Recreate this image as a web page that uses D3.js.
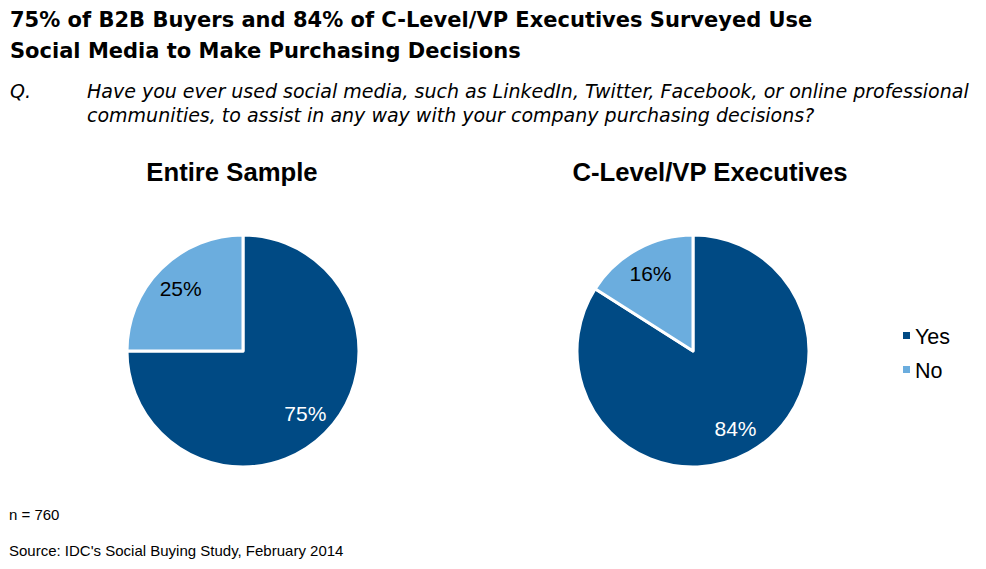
<!DOCTYPE html>
<html>
<head>
<meta charset="utf-8">
<script src="https://cdn.jsdelivr.net/npm/d3@7"></script>
<style>
  body { margin: 0; background: #fff; }
  svg { display: block; }
</style>
</head>
<body>
<script>
// DATA

const categories = ["Yes", "No"];
const groups = ["Entire Sample", "C-Level/VP Executives"];
const sampleValues = [75, 25];
const execValues = [84, 16];

const W = 986, H = 569;
const colors = d3.scaleOrdinal().domain(categories).range(["#004a84", "#6badde"]);

const svg = d3.select("body")
  .append("svg")
  .attr("width", W)
  .attr("height", H);

// TITLES

const title = svg.append("text")
  .attr("x", 10)
  .attr("y", 27)
  .style("font-family", "'DejaVu Sans', sans-serif")
  .style("font-weight", "bold")
  .style("font-size", "21px")
  .attr("fill", "#000");
title.append("tspan").attr("x", 10).text("75% of B2B Buyers and 84% of C-Level/VP Executives Surveyed Use");
title.append("tspan").attr("x", 10).attr("dy", 31).text("Social Media to Make Purchasing Decisions");

const q = svg.append("text")
  .attr("y", 98)
  .style("font-family", "'DejaVu Sans', sans-serif")
  .style("font-style", "italic")
  .style("font-size", "19px");
q.append("tspan").attr("x", 10).text("Q.");
q.append("tspan").attr("x", 87).text("Have you ever used social media, such as LinkedIn, Twitter, Facebook, or online professional");
q.append("tspan").attr("x", 87).attr("dy", 24).text("communities, to assist in any way with your company purchasing decisions?");

// PIES

const pie = d3.pie().sort(null).value(d => d.v);
const arc = d3.arc().innerRadius(0);

const pies = [
  {name: groups[0], values: sampleValues, cx: 243, cy: 351, r: 116, hx: 232},
  {name: groups[1], values: execValues, cx: 693, cy: 351, r: 116, hx: 710}
];

pies.forEach(p => {
  const data = categories.map((c, i) => ({c: c, v: p.values[i]}));
  const g = svg.append("g").attr("transform", `translate(${p.cx},${p.cy})`);
  const a = arc.outerRadius(p.r);
  g.selectAll("path")
    .data(pie(data))
    .enter()
    .append("path")
    .attr("d", a)
    .attr("fill", d => colors(d.data.c))
    .attr("stroke", "#fff")
    .attr("stroke-width", 3)
    .attr("stroke-linejoin", "round");

  const lab = d3.arc().innerRadius(p.r * 0.76).outerRadius(p.r * 0.76);
  g.selectAll("text")
    .data(pie(data))
    .enter()
    .append("text")
    .attr("transform", d => `translate(${lab.centroid(d)})`)
    .attr("text-anchor", "middle")
    .attr("dy", "0.35em")
    .style("font-family", "Arial, 'Liberation Sans', sans-serif")
    .style("font-size", "21px")
    .attr("fill", d => d.data.c === "Yes" ? "#fff" : "#000")
    .text(d => d.data.v + "%");

  svg.append("text")
    .attr("x", p.hx)
    .attr("y", 181)
    .attr("text-anchor", "middle")
    .style("font-family", "Arial, 'Liberation Sans', sans-serif")
    .style("font-weight", "bold")
    .style("font-size", "25.7px")
    .text(p.name);
});

// LEGEND

const legend = svg.append("g").attr("transform", "translate(903,336)");
categories.forEach((c, i) => {
  legend.append("rect")
    .attr("x", 0)
    .attr("y", i * 34 - 4)
    .attr("width", 7)
    .attr("height", 7)
    .attr("fill", colors(c));
  legend.append("text")
    .attr("x", 12)
    .attr("y", i * 34)
    .attr("dy", "0.35em")
    .style("font-family", "Arial, 'Liberation Sans', sans-serif")
    .style("font-size", "21.5px")
    .text(c);
});

// NOTES

svg.append("text")
  .attr("x", 9).attr("y", 520)
  .style("font-family", "Arial, 'Liberation Sans', sans-serif")
  .style("font-size", "15px")
  .text("n = 760");

svg.append("text")
  .attr("x", 9).attr("y", 556)
  .style("font-family", "Arial, 'Liberation Sans', sans-serif")
  .style("font-size", "15px")
  .text("Source: IDC's Social Buying Study, February 2014");
</script>
</body>
</html>
